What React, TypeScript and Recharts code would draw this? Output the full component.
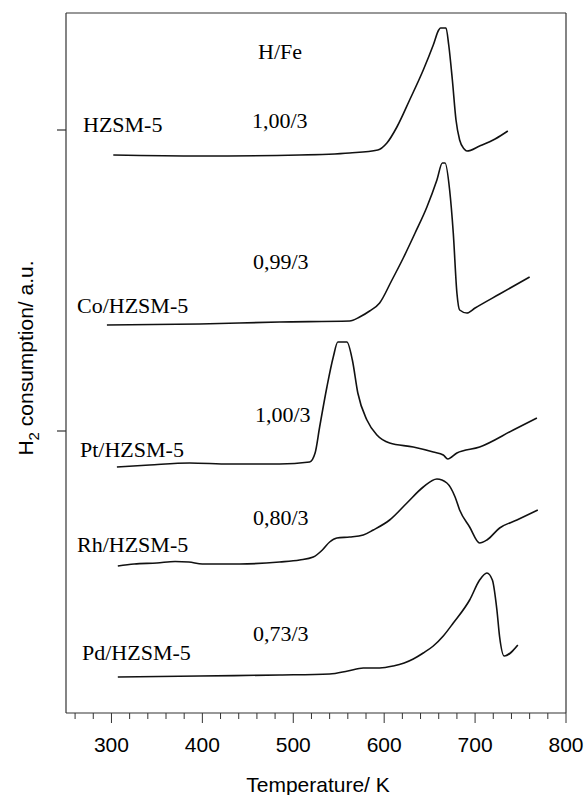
import React from "react";
import { LineChart, Line, XAxis, YAxis, ReferenceLine, Customized } from "recharts";

// Temperature-programmed reduction profiles (T in K, signal in arbitrary units, stacked)
const hzsm5 = [
  { t: 302, v: 5.58 }, { t: 397, v: 5.57 }, { t: 507, v: 5.58 }, { t: 562, v: 5.6 },
  { t: 593, v: 5.63 }, { t: 603, v: 5.7 }, { t: 614, v: 5.86 }, { t: 628, v: 6.13 },
  { t: 643, v: 6.43 }, { t: 654, v: 6.68 }, { t: 660, v: 6.83 }, { t: 662, v: 6.85 },
  { t: 668, v: 6.85 }, { t: 671, v: 6.68 }, { t: 675, v: 6.33 }, { t: 679, v: 5.93 },
  { t: 683, v: 5.73 }, { t: 688, v: 5.64 }, { t: 691, v: 5.62 }, { t: 705, v: 5.67 },
  { t: 722, v: 5.74 }, { t: 736, v: 5.82 },
];

const coHzsm5 = [
  { t: 295, v: 3.88 }, { t: 397, v: 3.89 }, { t: 485, v: 3.91 }, { t: 562, v: 3.92 },
  { t: 573, v: 3.96 }, { t: 584, v: 4.02 }, { t: 595, v: 4.1 }, { t: 608, v: 4.32 },
  { t: 621, v: 4.55 }, { t: 634, v: 4.8 }, { t: 647, v: 5.06 }, { t: 658, v: 5.33 },
  { t: 664, v: 5.5 }, { t: 667, v: 5.5 }, { t: 672, v: 5.23 }, { t: 676, v: 4.8 },
  { t: 680, v: 4.2 }, { t: 683, v: 4.03 }, { t: 691, v: 4.0 }, { t: 700, v: 4.05 },
  { t: 727, v: 4.19 }, { t: 760, v: 4.36 },
];

const ptHzsm5 = [
  { t: 306, v: 2.46 }, { t: 342, v: 2.48 }, { t: 386, v: 2.5 }, { t: 430, v: 2.49 },
  { t: 485, v: 2.49 }, { t: 518, v: 2.51 }, { t: 524, v: 2.6 }, { t: 529, v: 2.86 },
  { t: 537, v: 3.26 }, { t: 544, v: 3.56 }, { t: 549, v: 3.71 }, { t: 559, v: 3.71 },
  { t: 565, v: 3.53 }, { t: 571, v: 3.2 }, { t: 581, v: 2.93 }, { t: 592, v: 2.78 },
  { t: 606, v: 2.7 }, { t: 632, v: 2.66 }, { t: 654, v: 2.61 }, { t: 665, v: 2.58 },
  { t: 670, v: 2.54 }, { t: 680, v: 2.6 }, { t: 705, v: 2.66 }, { t: 742, v: 2.83 },
  { t: 768, v: 2.95 },
];

const rhHzsm5 = [
  { t: 307, v: 1.47 }, { t: 325, v: 1.49 }, { t: 350, v: 1.5 }, { t: 370, v: 1.515 },
  { t: 385, v: 1.51 }, { t: 400, v: 1.49 }, { t: 441, v: 1.49 }, { t: 485, v: 1.51 },
  { t: 507, v: 1.53 }, { t: 522, v: 1.56 }, { t: 532, v: 1.63 }, { t: 540, v: 1.71 },
  { t: 548, v: 1.75 }, { t: 562, v: 1.76 }, { t: 577, v: 1.78 }, { t: 588, v: 1.83 },
  { t: 606, v: 1.93 }, { t: 625, v: 2.1 }, { t: 643, v: 2.26 }, { t: 658, v: 2.34 },
  { t: 669, v: 2.3 }, { t: 678, v: 2.16 }, { t: 683, v: 2.03 }, { t: 694, v: 1.86 },
  { t: 705, v: 1.7 }, { t: 713, v: 1.73 }, { t: 727, v: 1.85 }, { t: 746, v: 1.93 },
  { t: 769, v: 2.03 },
];

const pdHzsm5 = [
  { t: 307, v: 0.36 }, { t: 397, v: 0.37 }, { t: 485, v: 0.38 }, { t: 540, v: 0.39 },
  { t: 560, v: 0.42 }, { t: 577, v: 0.45 }, { t: 595, v: 0.45 }, { t: 610, v: 0.47 },
  { t: 622, v: 0.5 }, { t: 632, v: 0.54 }, { t: 643, v: 0.6 }, { t: 654, v: 0.67 },
  { t: 665, v: 0.77 }, { t: 676, v: 0.9 }, { t: 694, v: 1.13 }, { t: 705, v: 1.33 },
  { t: 713, v: 1.4 }, { t: 719, v: 1.33 }, { t: 724, v: 1.03 }, { t: 727, v: 0.76 },
  { t: 732, v: 0.57 }, { t: 747, v: 0.68 },
];

const series = [hzsm5, coHzsm5, ptHzsm5, rhHzsm5, pdHzsm5];

const xTicks = [260, 280, 300, 320, 340, 360, 380, 400, 420, 440, 460, 480, 500, 520, 540,
  560, 580, 600, 620, 640, 660, 680, 700, 720, 740, 760, 780, 800];
const yTicks = [2.82, 5.83];

const sampleLabels = ["HZSM-5", "Co/HZSM-5", "Pt/HZSM-5", "Rh/HZSM-5", "Pd/HZSM-5"];
const ratioLabels = ["1,00/3", "0,99/3", "1,00/3", "0,80/3", "0,73/3"];

const SERIF = "'Times New Roman', 'Liberation Serif', serif";
const SANS = "Arial, 'Liberation Sans', sans-serif";
const AXIS = "#333";

const XTick = (props: any) => {
  const { x, y, payload } = props;
  const major = payload.value % 100 === 0;
  return (
    <g>
      <line x1={x} x2={x} y1={y} y2={y + (major ? 10 : 6)} stroke={AXIS} strokeWidth={1} />
      {major && (
        <text x={x} y={y + 39} textAnchor="middle" fontFamily={SANS} fontSize={21} fill="#000">
          {payload.value}
        </text>
      )}
    </g>
  );
};

const NoLabel = () => <g />;

const samplePos = [
  [83, 132], [77, 313], [80, 457], [77, 552], [82, 660],
];
const ratioPos = [
  [252, 128], [253, 269], [255, 422], [253, 525], [253, 641],
];

const Annotations = () => (
  <g fontFamily={SERIF} fontSize={22} fill="#000">
    <text x={258} y={59}>H/Fe</text>
    {sampleLabels.map((s, i) => (
      <text key={s} x={samplePos[i][0]} y={samplePos[i][1]}>{s}</text>
    ))}
    {ratioLabels.map((s, i) => (
      <text key={i} x={ratioPos[i][0]} y={ratioPos[i][1]}>{s}</text>
    ))}
    <text
      transform="translate(33,358) rotate(-90)"
      textAnchor="middle"
      fontFamily={SANS}
      fontSize={21}
    >
      H<tspan fontSize={15} dy={6}>2</tspan>
      <tspan dy={-6}> consumption/ a.u.</tspan>
    </text>
    <text x={318} y={792} textAnchor="middle" fontFamily={SANS} fontSize={21}>
      Temperature/ K
    </text>
  </g>
);

export default function App() {
  return (
    <div style={{ position: "absolute", left: 0, top: 0, background: "#fff" }}>
      <LineChart width={586} height={795} margin={{ top: 13, right: 20, bottom: 0, left: 0 }}>
        <XAxis
          type="number"
          dataKey="t"
          domain={[250, 800]}
          ticks={xTicks}
          interval={0}
          tick={<XTick />}
          tickLine={false}
          tickSize={0}
          tickMargin={0}
          height={82}
          axisLine={{ stroke: AXIS, strokeWidth: 1.2 }}
        />
        <YAxis
          type="number"
          domain={[0, 7]}
          ticks={yTicks}
          interval={0}
          tick={<NoLabel />}
          tickSize={9}
          tickLine={{ stroke: AXIS, strokeWidth: 1.2 }}
          width={66}
          axisLine={{ stroke: AXIS, strokeWidth: 1.2 }}
        />
        <ReferenceLine y={7} stroke={AXIS} strokeWidth={1.2} />
        <ReferenceLine x={800} stroke={AXIS} strokeWidth={1.2} />
        {series.map((d, i) => (
          <Line
            key={i}
            data={d}
            dataKey="v"
            type="monotone"
            stroke="#111"
            strokeWidth={1.6}
            dot={false}
            isAnimationActive={false}
          />
        ))}
        <Customized component={Annotations} />
      </LineChart>
    </div>
  );
}
